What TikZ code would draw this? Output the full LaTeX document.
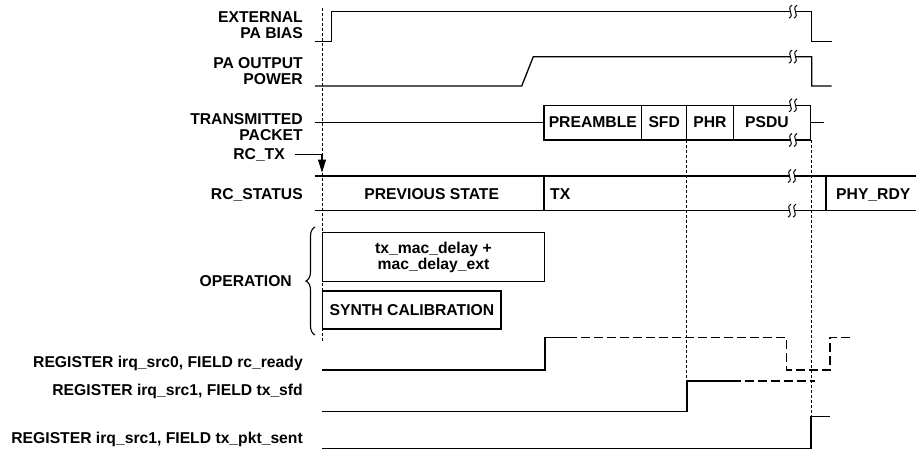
\documentclass[tikz,border=0pt]{standalone}
\usepackage{fontspec}
\setmainfont{Liberation Sans}
\usepackage{tikz}
\usetikzlibrary{arrows.meta, decorations.pathreplacing}

\newcommand{\lblfont}{\bfseries\fontsize{15.7}{16}\selectfont}
% break mark on a signal line
\newcommand{\brkmark}[2]{%
  \fill[white] ({#1-2.5},{#2-2.5}) rectangle ({#1+2.5},{#2+2.5});
  \foreach \dx in {-2.5,2.5}
    \draw[line width=1pt] ({#1+\dx+1.5},{#2-6.5}) .. controls ({#1+\dx-5},{#2-3}) and ({#1+\dx+5},{#2+3}) .. ({#1+\dx-1.5},{#2+6.5});
}

\tikzset{
  sig/.style={line width=1.3pt},
  future/.style={line width=1.3pt, dash pattern=on 9pt off 4pt},
  guide/.style={line width=0.7pt, dash pattern=on 3pt off 2pt},
  lbl/.style={anchor=east, align=right, inner sep=0pt, font=\lblfont},
  onelbl/.style={lbl, text height=11.2pt, text depth=0pt},
  cell/.style={inner sep=0pt, font=\lblfont, text height=11.2pt, text depth=0pt},
  opbox/.style={draw, line width=1.3pt, inner sep=0pt, align=center, font=\lblfont}
}

\begin{document}
\begin{tikzpicture}[x=1pt,y=-1pt]
\useasboundingbox (0,0) rectangle (916,451);

\node[lbl] (bias) at (303,25.3) {EXTERNAL\\PA BIAS};
\node[lbl] (papwr) at (303,70.8) {PA OUTPUT\\POWER};
\node[lbl] (txpkt) at (303,126.7) {TRANSMITTED\\PACKET};
\node[onelbl] (rctx) at (285,154.3) {RC\_TX};
\node[onelbl] (rcstat) at (303,194.3) {RC\_STATUS};
\node[onelbl] (oper) at (292,281) {OPERATION};
\node[onelbl] (rcready) at (303,362.3) {REGISTER irq\_src0, FIELD rc\_ready};
\node[onelbl] (txsfd) at (303,390) {REGISTER irq\_src1, FIELD tx\_sfd};
\node[onelbl] (txsent) at (303,438.3) {REGISTER irq\_src1, FIELD tx\_pkt\_sent};

\draw[guide] (322,8) -- (322,341);
\draw[guide] (686.7,140) -- (686.7,381);
\draw[guide] (811,140) -- (811,416.7);

\draw[sig] (315,41.7) -- (331.7,41.7) -- (331.7,11.7) -- (811.7,11.7) -- (811.7,41.7) -- (831.7,41.7);
\brkmark{793}{11.7}
\draw[sig] (315,86) -- (521.7,86) -- (533.3,56.7) -- (811.7,56.7) -- (811.7,86) -- (831.7,86);
\brkmark{793}{56.7}

\draw[sig] (315,122.3) -- (544,122.3);
\draw[sig] (544,105.3) rectangle (810.7,140);
\draw[sig] (810.7,122.3) -- (824,122.3);
\draw[sig] (641.7,105.3) -- (641.7,140) (686.7,105.3) -- (686.7,140) (733.3,105.3) -- (733.3,140);
\brkmark{793}{105.3}
\brkmark{793}{140}
\node[cell] (pre) at (592.8,122.3) {PREAMBLE};
\node[cell] (sfd) at (664.2,122.3) {SFD};
\node[cell] (phr) at (710,122.3) {PHR};
\node[cell] (psdu) at (767,122.3) {PSDU};

\coordinate (txgo) at (322,172.5);
\draw[sig, -{Triangle[length=13pt,width=8pt]}] ([xshift=10pt]rctx.east) -| (txgo);

\draw[sig] (315,176) -- (916,176) (315,210.7) -- (916,210.7);
\draw[sig] (544,176) -- (544,210.7) (826,176) -- (826,210.7);
\brkmark{792}{176}
\brkmark{792}{210.7}
\node[cell] (prev) at (431.7,194.3) {PREVIOUS STATE};
\node[cell, anchor=west] (tx) at (550,194.3) {TX};
\node[cell, anchor=west] (phyrdy) at (836,194.3) {PHY\_RDY};

\draw[line width=1.1pt, decorate, decoration={brace, amplitude=9pt}] (315,335) -- (315,227);
\node[opbox, minimum width=221.6pt, minimum height=49pt] (delay) at (433.5,257.2) {tx\_mac\_delay +\\mac\_delay\_ext};
\node[opbox, minimum width=178.3pt, minimum height=38pt] (synth) at (411.9,310) {SYNTH CALIBRATION};

\draw[sig] (322,370) -- (545,370) -- (545,337.7) -- (568,337.7);
\draw[future] (568,337.7) -- (786.7,337.7) -- (786.7,370) -- (830,370) -- (830,337.7) -- (850,337.7);
\draw[sig] (322,411.7) -- (687,411.7) -- (687,381) -- (731.7,381);
\draw[future] (731.7,381) -- (815,381);
\draw[sig] (322,448.3) -- (811,448.3) -- (811,416.7) -- (830,416.7);
\end{tikzpicture}
\end{document}
